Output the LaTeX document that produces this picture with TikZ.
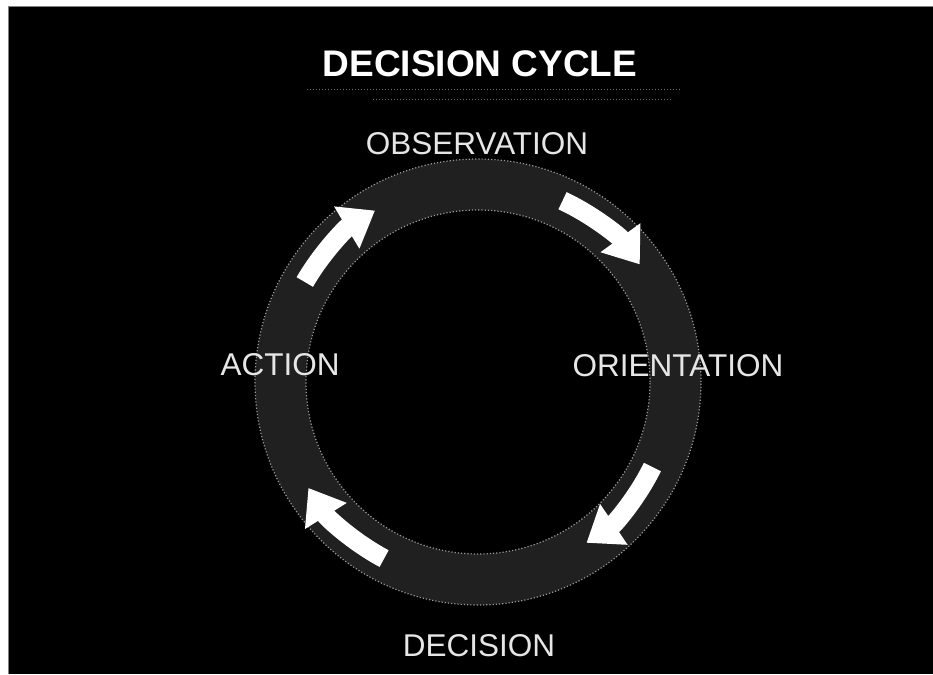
\documentclass[tikz,border=0pt]{standalone}
\usepackage{fontspec}
\setmainfont{Liberation Sans}
\usetikzlibrary{arrows.meta}
\definecolor{ringgray}{HTML}{202020}
\definecolor{edgegray}{HTML}{9A9A9A}
\definecolor{labelgray}{HTML}{E6E6E6}
\begin{document}
\begin{tikzpicture}[x=1pt,y=1pt,
  lbl/.style={text=labelgray, font=\fontsize{31.5}{31.5}\selectfont, inner sep=0pt, anchor=center},
  titlestyle/.style={text=white, font=\fontsize{37}{37}\selectfont\bfseries, inner sep=0pt, anchor=center},
  cyclearrow/.style={draw=white, line width=19pt, -{Triangle[length=33pt,width=47pt]}},
  ringedge/.style={draw=edgegray, line width=1.2pt, dotted},
  ruleline/.style={draw=edgegray!70!black, line width=1pt, dotted}]
\useasboundingbox (0,0) rectangle (933,674);
% page and frame
\fill[white] (0,0) rectangle (933,674);
\fill[black] (8,0) rectangle (933,667);
\draw[gray, line width=1pt] (8,0) -- (8,667) -- (933,667);
% ring
\coordinate (c) at (478,292);
\fill[ringgray, even odd rule] (c) circle[radius=223] (c) circle[radius=172];
\draw[ringedge] (c) circle[radius=223];
\draw[ringedge] (c) circle[radius=172];
% title
\node[titlestyle] (title) at (480,610) {DECISION CYCLE};
\coordinate (r1a) at (307,584);
\coordinate (r1b) at (680,584);
\coordinate (r2a) at (373,574);
\coordinate (r2b) at (673,574);
\draw[ruleline] (r1a) -- (r1b);
\draw[ruleline] (r2a) -- (r2b);
% labels
\node[lbl] (obs) at (477,530) {OBSERVATION};
\node[lbl] (ori) at (678,308) {ORIENTATION};
\node[lbl] (dec) at (479,28) {DECISION};
\node[lbl] (act) at (280,309) {ACTION};
% arrows (clockwise)
\draw[cyclearrow] (c) ++(150:200) arc[start angle=150, end angle=121, radius=200];
\draw[cyclearrow] (c) ++(65:200) arc[start angle=65, end angle=36, radius=200];
\draw[cyclearrow] (c) ++(-26:194) arc[start angle=-26, end angle=-56, radius=194];
\draw[cyclearrow] (c) ++(-118:200) arc[start angle=-118, end angle=-148, radius=200];
\end{tikzpicture}
\end{document}
